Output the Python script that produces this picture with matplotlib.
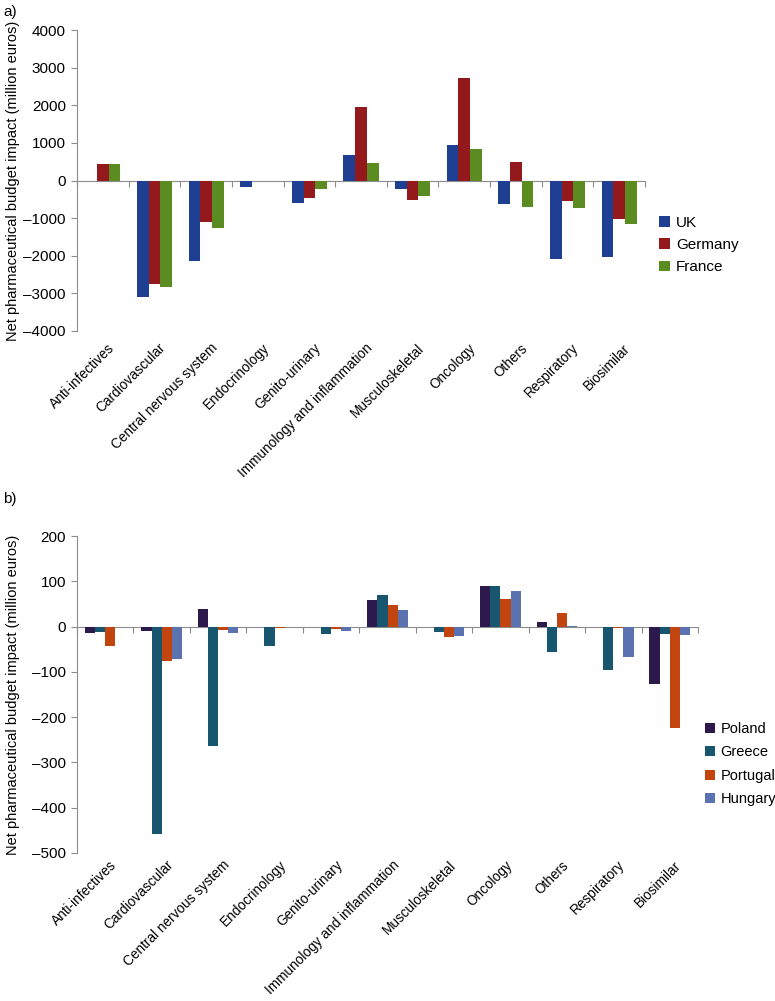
import matplotlib
matplotlib.use("Agg")
import matplotlib.pyplot as plt
import matplotlib.transforms as mtransforms
import numpy as np

plt.rcParams['font.family'] = ['Liberation Sans', 'DejaVu Sans']
plt.rcParams['font.size'] = 10

# categories (same for both panels)
categories = ['Anti-infectives', 'Cardiovascular', 'Central nervous system', 'Endocrinology',
              'Genito-urinary', 'Immunology and inflammation', 'Musculoskeletal', 'Oncology',
              'Others', 'Respiratory', 'Biosimilar']

# panel a (million euros)
uk = [0, -3090, -2130, -170, -610, 668, -220, 936, -620, -2095, -2035]
germany = [440, -2740, -1100, -20, -465, 1960, -515, 2718, 481, -535, -1015]
france = [430, -2835, -1260, 0, -235, 472, -410, 829, -705, -722, -1143]

# panel b (million euros)
poland = [-15, -9, 38, -1, -1, 58, -2, 90, 9, -2, -126]
greece = [-12, -457, -263, -42, -17, 69, -12, 90, -57, -96, -16]
portugal = [-43, -75, -7, -3, -5, 48, -22, 60, 29, -3, -223]
hungary = [0, -71, -14, -1, -9, 37, -20, 78, 1, -68, -19]

fig = plt.figure(figsize=(7.75, 10.01), dpi=100)
W, H = 775, 1001


def px_axes(left, top, right, bottom):
    return fig.add_axes([left / W, 1 - bottom / H, (right - left) / W, (bottom - top) / H])


def style_axes(ax, ylim, yticks, label_gap):
    ax.set_xlim(-0.5, len(categories) - 0.5)
    ax.set_ylim(*ylim)
    ax.set_yticks(yticks)
    ax.set_yticklabels(['\u2013' + str(abs(v)) if v < 0 else str(v) for v in yticks])
    for s in ['top', 'right']:
        ax.spines[s].set_visible(False)
    ax.spines['left'].set_color('#8c8c8c')
    ax.spines['bottom'].set_color('#8c8c8c')
    ax.spines['bottom'].set_position(('data', 0))
    ax.spines['bottom'].set_zorder(0)
    ax.set_xticks(np.arange(-0.5, len(categories), 1.0))
    ax.set_xticklabels([])
    ax.tick_params(axis='x', direction='out', length=4, color='#8c8c8c')
    ax.tick_params(axis='y', direction='out', length=4, color='#8c8c8c', labelsize=11, pad=4)
    ax.set_ylabel('Net pharmaceutical budget impact (million euros)', fontsize=10.5)
    # category names sit under the plot area, label_gap pixels below it
    trans = mtransforms.blended_transform_factory(ax.transData, ax.transAxes)
    offset = mtransforms.ScaledTranslation(0, -label_gap / 100, fig.dpi_scale_trans)
    for i, c in enumerate(categories):
        ax.text(i + 0.08, 0, c, transform=trans + offset, rotation=45, rotation_mode='anchor',
                ha='right', va='top', fontsize=9.8)


# ---- panel a
ax1 = px_axes(77, 30, 645, 331)
x = np.arange(len(categories))
w = 0.227
ax1.bar(x - w, uk, w, color='#1f3f93', label='UK')
ax1.bar(x, germany, w, color='#94191c', label='Germany')
ax1.bar(x + w, france, w, color='#5b8c22', label='France')
style_axes(ax1, (-4000, 4000), list(range(-4000, 4001, 1000)), 10)
ax1.yaxis.set_label_coords((20 - 77) / 568, 0.5)
ax1.legend(loc='center left', bbox_to_anchor=(659 / W, 1 - 245 / H), bbox_transform=fig.transFigure,
           frameon=False, fontsize=11, handlelength=0.7, handleheight=0.7,
           handletextpad=0.4, labelspacing=0.55, borderaxespad=0, borderpad=0)
fig.text(3 / W, 1 - 12 / H, 'a)', fontsize=11, va='center')

# ---- panel b
ax2 = px_axes(77, 536, 698, 853)
w = 0.18
ax2.bar(x - 1.5 * w, poland, w, color='#2b1a4b', label='Poland')
ax2.bar(x - 0.5 * w, greece, w, color='#17566e', label='Greece')
ax2.bar(x + 0.5 * w, portugal, w, color='#c2440f', label='Portugal')
ax2.bar(x + 1.5 * w, hungary, w, color='#5a72b0', label='Hungary')
style_axes(ax2, (-500, 200), list(range(-500, 201, 100)), 5)
ax2.yaxis.set_label_coords((20 - 77) / 621, 0.5)
ax2.legend(loc='center left', bbox_to_anchor=(705 / W, 1 - 764 / H), bbox_transform=fig.transFigure,
           frameon=False, fontsize=10.5, handlelength=0.7, handleheight=0.7,
           handletextpad=0.35, labelspacing=0.65, borderaxespad=0, borderpad=0)
fig.text(3 / W, 1 - 499 / H, 'b)', fontsize=11, va='center')

fig.savefig('out.png', dpi=100)
